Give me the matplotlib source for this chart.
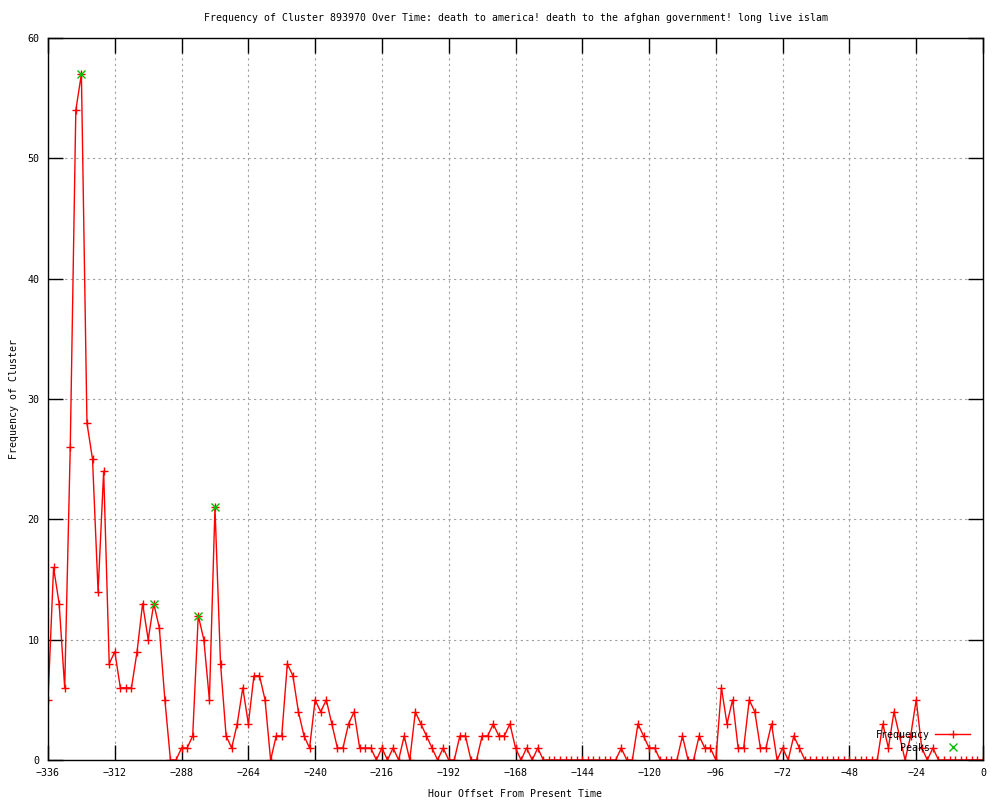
import numpy as np
import matplotlib
matplotlib.use('Agg')
import matplotlib.pyplot as plt

plt.rcParams['font.family'] = ['DejaVu Sans Mono']

# hourly offsets (every 2 hours) and counts per bin
hours = list(range(-336, 1, 2))
freq = [5, 16, 13, 6, 26, 54, 57, 28, 25, 14, 24, 8, 9, 6, 6, 6, 9, 13, 10, 13, 11, 5, 0, 0,
        1, 1, 2, 12, 10, 5, 21, 8, 2, 1, 3, 6, 3, 7, 7, 5, 0, 2, 2, 8,
        7, 4, 2, 1, 5, 4, 5, 3, 1, 1, 3, 4, 1, 1, 1, 0, 1, 0, 1, 0, 2, 0, 4, 3, 2, 1, 0,
        1, 0, 0, 2, 2, 0, 0, 2, 2, 3, 2, 2, 3, 1, 0, 1, 0, 1, 0,
        0, 0, 0, 0, 0, 0, 0, 0, 0, 0, 0, 0, 0,
        1, 0, 0, 3, 2, 1, 1, 0, 0, 0, 0, 2, 0, 0, 2, 1, 1, 0, 6, 3, 5, 1, 1, 5, 4, 1, 1, 3, 0, 1, 0, 2, 1,
        0, 0, 0, 0, 0, 0, 0, 0, 0, 0, 0, 0, 0, 0,
        3, 1, 4, 2, 0, 2, 5, 1, 0, 1,
        0, 0, 0, 0, 0, 0, 0, 0, 0]

peak_hours = [-324, -298, -282, -276]
peak_vals = [57, 13, 12, 21]

title = 'Frequency of Cluster 893970 Over Time: death to america! death to the afghan government! long live islam'

fig = plt.figure(figsize=(10, 8), dpi=100)
ax = fig.add_axes([0.048, 0.05, 0.935, 0.9025])

ax.plot(hours, freq, color='red', linewidth=1, marker='+', markersize=6,
        markeredgewidth=1, label='Frequency')
ax.plot(peak_hours, peak_vals, linestyle='none', marker='x', color='#00c000',
        markersize=5.5, markeredgewidth=1, label='Peaks')

ax.set_xlim(-336, 0)
ax.set_ylim(0, 60)
ax.set_xticks(range(-336, 1, 24))
ax.set_yticks(range(0, 61, 10))
ax.tick_params(direction='in', length=11, width=1, top=True, right=True,
               labelsize=7.2, pad=6)
ax.grid(True, color='#a0a0a0', linestyle=(0, (2, 3)), linewidth=0.8)
for s in ax.spines.values():
    s.set_linewidth(1)

ax.set_title(title, fontsize=7.1, pad=12)
ax.set_xlabel('Hour Offset From Present Time', fontsize=7.1, labelpad=8)
ax.set_ylabel('Frequency of Cluster', fontsize=7.1, labelpad=6)

leg = ax.legend(loc='lower right', bbox_to_anchor=(0.996, -0.002), frameon=False,
                markerfirst=False, numpoints=1, fontsize=7.1, handlelength=3.6,
                labelspacing=0.3, handletextpad=0.5)

fig.savefig('out.png', dpi=100)
